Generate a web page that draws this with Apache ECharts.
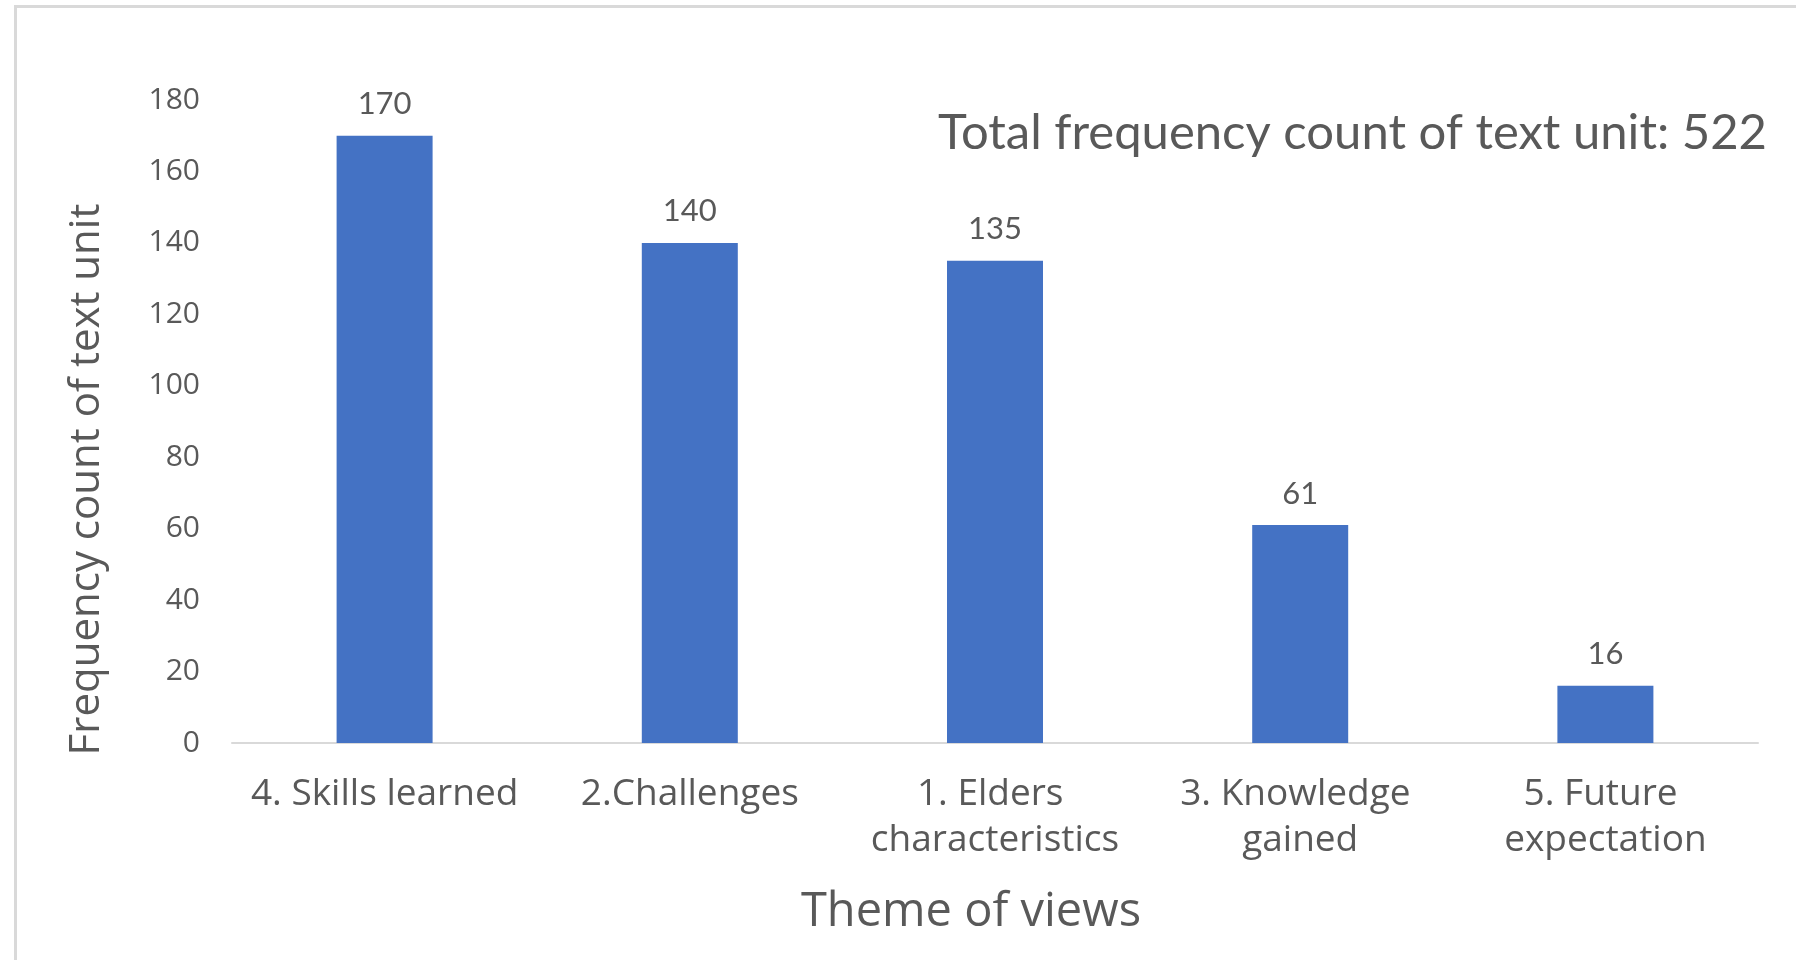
<!DOCTYPE html>
<html>
<head>
    <meta charset="UTF-8">
    <title>Theme of views</title>
    <style>
        * {
            margin: 0;
            padding: 0
        }

        #chart {
            width: 1796px;
            height: 960px;
        }
    </style>
</head>
<body>
<div id="chart"></div>
<script type="text/javascript" src="https://cdn.jsdelivr.net/npm/echarts@6/dist/echarts.min.js"></script>
<script type="text/javascript">
    // 类别与数值
    var themes = ['4. Skills learned', '2.Challenges', '1. Elders characteristics', '3. Knowledge gained', '5. Future expectation'];
    var counts = [170, 140, 135, 61, 16];
    var totalCount = 522;

    var grey = '#595959';
    var myEcharts = echarts.init(document.getElementById('chart'));
    var option = {
        animation: false,
        backgroundColor: '#fff',
        title: {
            text: 'Total frequency count of text unit: ' + totalCount,
            right: 24,
            top: 104,
            textStyle: {
                color: grey,
                fontFamily: 'Lato',
                fontWeight: 'normal',
                fontSize: 49
            }
        },
        graphic: [{
            type: 'rect',
            left: 13,
            top: 4,
            shape: {width: 1800, height: 1000},
            style: {fill: 'none', stroke: '#d9d9d9', lineWidth: 3},
            silent: true
        }],
        grid: {
            left: 232,
            right: 38,
            top: 100,
            bottom: 217
        },
        xAxis: {
            type: 'category',
            data: themes,
            name: 'Theme of views',
            nameLocation: 'middle',
            nameGap: 146,
            nameTextStyle: {
                color: grey,
                fontFamily: 'Open Sans',
                fontSize: 47,
                padding: [0, 48, 0, 0]
            },
            axisLine: {lineStyle: {color: '#d9d9d9', width: 2}},
            axisTick: {show: false},
            axisLabel: {
                color: grey,
                fontFamily: 'Open Sans',
                fontSize: 37,
                lineHeight: 46,
                margin: 28,
                width: 300,
                overflow: 'break',
                interval: 0
            }
        },
        yAxis: {
            type: 'value',
            min: 0,
            max: 180,
            interval: 20,
            name: 'Frequency count of text unit',
            nameLocation: 'middle',
            nameRotate: 90,
            nameGap: 124,
            nameTextStyle: {
                color: grey,
                fontFamily: 'Open Sans',
                fontSize: 42,
                padding: [0, 116, 0, 0]
            },
            axisLine: {show: false},
            axisTick: {show: false},
            splitLine: {show: false},
            axisLabel: {
                color: grey,
                fontFamily: 'Open Sans',
                fontSize: 30,
                margin: 32
            }
        },
        series: [{
            type: 'bar',
            data: counts,
            barWidth: 96,
            itemStyle: {color: '#4472c4'},
            label: {
                show: true,
                position: 'top',
                distance: 16,
                color: grey,
                fontFamily: 'Lato',
                fontSize: 31
            }
        }]
    };
    myEcharts.setOption(option);
</script>
</body>
</html>
